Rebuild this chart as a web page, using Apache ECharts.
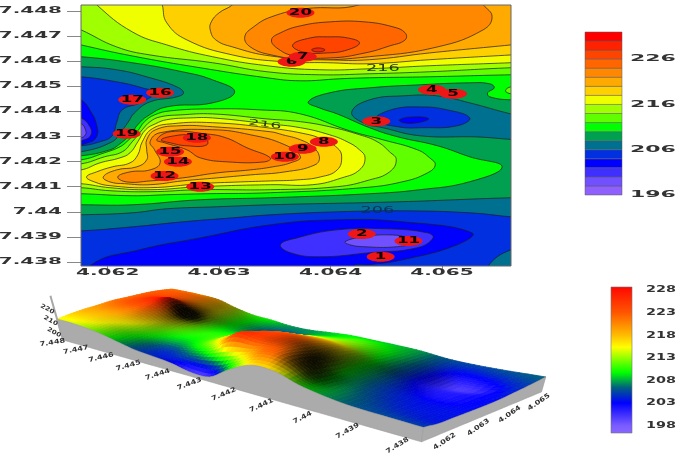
<!DOCTYPE html>
<html>
<head>
<meta charset="utf-8">
<style>html,body{margin:0;padding:0;background:#fff}#chart{width:686px;height:454px}</style>
<script src="https://cdn.jsdelivr.net/npm/echarts@6/dist/echarts.min.js"></script>
</head>
<body>
<div id="chart"></div>
<script>
// Axis ranges and tick labels of the contour map
const xRange = [4.06176, 4.06562];
const yRange = [7.43784, 7.44824];
const xTicks = [4.062, 4.063, 4.064, 4.065];
const yTicks = [7.448, 7.447, 7.446, 7.445, 7.444, 7.443, 7.442, 7.441, 7.44, 7.439, 7.438];

// Sampling sites: number, longitude, latitude
const siteNumbers = [1, 2, 3, 4, 5, 6, 7, 8, 9, 10, 11, 12, 13, 14, 15, 16, 17, 18, 19, 20];
const siteX = [4.06445, 4.06428, 4.06441, 4.06491, 4.06510, 4.06365, 4.06375, 4.06394, 4.06375, 4.06359, 4.06470, 4.06251, 4.06283, 4.06263, 4.06256, 4.06247, 4.06222, 4.06280, 4.06217, 4.06373];
const siteY = [7.43821, 7.43912, 7.44361, 7.44486, 7.44470, 7.44598, 7.44618, 7.44279, 7.44251, 7.44219, 7.43884, 7.44143, 7.44100, 7.44199, 7.44239, 7.44474, 7.44446, 7.44295, 7.44311, 7.44793];

// Filled contour bands, 196 to 232 in steps of 2
const bandLevels = [196, 198, 200, 202, 204, 206, 208, 210, 212, 214, 216, 218, 220, 222, 224, 226, 228, 230, 232];
const bandColors = ['#9060FF', '#7050FF', '#4030FF', '#0000FF', '#0030E0', '#007090', '#00A050', '#00FF00', '#60FF00', '#A0FF00', '#F0FF00', '#FFD000', '#FFAA00', '#FF8800', '#FF6600', '#FF4400', '#FF2200', '#FF0000'];
const bandTickLabels = [226, 216, 206, 196];

// Contour outlines as flat x,y lists, in thousandths above 4.06 and 7.44.
// Outlines that leave the map run past its border and are clipped there.
const base = [1.4, 9.2, 6.0, 9.2, 6.0, -3.3, 1.4, -3.3];
const below210Right = [3.80,4.38, 3.99,4.74, 4.35,4.94, 4.80,5.06, 5.25,5.14, 5.43,5.10, 5.47,4.94, 5.41,4.74, 5.43,4.58, 5.62,4.46, 5.88,4.46, 5.88,-3.11, 1.57,-3.11, 1.57,0.28, 1.76,0.28, 2.22,0.28, 2.83,0.48, 3.46,0.56, 4.35,0.72, 4.80,0.88, 5.25,1.20, 5.54,1.79, 5.25,2.19, 4.96,2.63, 4.60,2.99, 4.35,3.35, 4.06,3.90, 3.90,4.14];
const below210Left = [1.57,6.18, 1.76,6.18, 2.22,5.94, 2.67,5.58, 2.94,5.26, 3.14,4.78, 2.94,4.34, 2.53,4.18, 2.36,3.82, 2.27,3.47, 2.21,3.11, 2.11,2.71, 2.02,2.47, 1.76,2.23, 1.57,2.23];
const below208Left = [1.57,5.78, 1.76,5.78, 2.08,5.66, 2.38,5.34, 2.62,4.98, 2.68,4.74, 2.62,4.58, 2.38,4.38, 2.24,3.94, 2.18,3.55, 2.12,3.19, 2.04,2.79, 1.76,2.39, 1.57,2.39];
const below208Right = [4.19,3.98, 4.35,4.46, 4.65,4.62, 4.96,4.62, 5.25,4.34, 5.62,3.90, 5.88,3.67, 5.88,2.99, 5.25,2.99, 4.80,3.03, 4.47,3.35, 4.29,3.55];
const below208Lower = [1.57,-0.12, 1.76,-0.12, 2.22,-0.04, 2.53,0.12, 2.98,0.20, 3.46,0.28, 4.62,0.40, 5.62,0.56, 5.88,0.56, 5.88,-3.11, 1.57,-3.11];
const below206Left = [1.57,5.38, 1.76,5.38, 2.08,5.18, 2.31,4.94, 2.42,4.74, 2.29,4.34, 2.13,4.06, 2.08,3.55, 2.04,3.03, 1.93,2.79, 1.76,2.63, 1.57,2.63];
const below206Right = [4.40,3.67, 4.54,4.06, 4.80,4.18, 5.05,4.06, 5.25,3.74, 5.14,3.43, 4.83,3.35, 4.60,3.39];
const below206Lower = [1.57,-0.76, 1.76,-0.76, 2.22,-0.60, 2.67,-0.40, 3.12,-0.24, 3.46,-0.12, 4.06,0, 4.65,0.04, 5.25,-0.04, 5.62,-0.20, 5.88,-0.28, 5.88,-1.31, 5.62,-1.51, 5.41,-2.19, 5.34,-3.11, 1.57,-3.11];
const below204Left = [1.66,4.46, 1.76,4.46, 1.85,3.98, 1.90,3.47, 1.90,2.99, 1.82,2.75, 1.66,2.67];
const below204Right = [4.62,3.67, 4.74,3.78, 4.88,3.71, 4.78,3.55, 4.65,3.55];
const below204Lower = [1.84,-2.15, 2.29,-1.51, 2.83,-1.04, 3.46,-0.52, 4.06,-0.32, 4.65,-0.40, 5.27,-0.84, 5.14,-1.31, 4.65,-1.91, 4.35,-2.11, 4.20,-2.19, 4.17,-3.11, 1.79,-3.11];
const below202Left = [1.66,3.74, 1.76,3.74, 1.84,3.39, 1.85,3.07, 1.79,2.87, 1.66,2.79];
const below202Lower = [3.55,-1.31, 3.70,-1.04, 4.06,-0.72, 4.51,-0.68, 4.87,-0.84, 4.92,-1.04, 4.78,-1.43, 4.35,-1.63, 3.90,-1.79, 3.64,-1.63];
const below200Left = [1.66,3.51, 1.76,3.51, 1.80,3.27, 1.80,3.07, 1.76,2.95, 1.66,2.95];
const below200Lower = [4.13,-1.19, 4.29,-1.00, 4.53,-0.92, 4.71,-1.04, 4.78,-1.19, 4.60,-1.39, 4.29,-1.39, 4.17,-1.31];

const above212Upper = [1.66,6.77, 1.76,6.65, 2.22,6.21, 2.83,5.74, 3.43,5.34, 3.73,5.22, 4.08,5.30, 4.35,5.34, 4.89,5.38, 5.62,5.46, 5.79,5.46, 5.79,9.04, 1.57,9.04, 1.57,6.77];
const above214Upper = [1.66,7.41, 1.76,7.25, 2.08,6.57, 2.38,6.25, 2.94,5.94, 3.43,5.58, 3.90,5.46, 4.35,5.50, 4.89,5.58, 5.62,5.74, 5.79,5.74, 5.79,9.04, 1.57,9.04, 1.57,7.41];
const above216Upper = [1.84,8.65, 1.90,8.25, 2.22,7.17, 2.53,6.65, 2.94,6.18, 3.43,5.82, 3.90,5.66, 4.35,5.70, 4.89,5.82, 5.62,5.94, 5.79,5.98, 5.79,9.04, 1.79,9.04];
const above218Upper = [2.47,8.65, 2.49,8.25, 2.53,7.53, 2.71,6.85, 3.12,6.25, 3.57,5.98, 3.97,5.94, 4.35,5.90, 4.89,6.06, 5.62,6.25, 5.79,6.29, 5.79,9.04, 2.42,9.04];
const above220Upper = [3.19,8.65, 3.12,8.25, 3.00,7.93, 2.93,7.57, 2.92,7.25, 2.97,6.85, 3.12,6.57, 3.46,6.21, 3.97,6.06, 4.35,6.06, 4.89,6.33, 5.62,6.65, 5.79,6.73, 5.79,9.04, 3.23,9.04];
const above222Upper = [4.35,8.84, 4.26,8.25, 3.77,8.09, 3.47,7.77, 3.31,7.37, 3.23,6.97, 3.28,6.57, 3.47,6.25, 3.81,6.06, 4.35,6.18, 4.96,6.57, 5.37,7.25, 5.45,7.77, 5.37,8.25, 5.25,8.84];
const above224Upper = [3.47,6.85, 3.55,7.13, 3.73,7.41, 4.00,7.57, 4.30,7.57, 4.56,7.37, 4.67,7.13, 4.67,6.85, 4.53,6.61, 4.31,6.33, 4.00,6.13, 3.68,6.21, 3.53,6.49];
const above226Upper = [3.66,6.65, 3.82,6.93, 3.97,6.97, 4.15,6.93, 4.26,6.73, 4.15,6.45, 3.97,6.33, 3.75,6.37];
const above228Upper = [3.83,6.45, 3.89,6.53, 3.95,6.45, 3.89,6.37];
const above212Edge = [5.57,4.82, 5.62,4.98, 5.70,4.90, 5.70,4.70, 5.62,4.70];

const above212Center = [1.57,2.07, 1.76,2.07, 1.97,2.35, 2.11,2.59, 2.18,2.83, 2.27,3.23, 2.33,3.59, 2.42,3.86, 2.56,4.02, 2.94,4.10, 3.37,4.06, 3.73,3.90, 4.17,3.23, 4.47,2.87, 4.78,2.47, 4.89,2.15, 4.94,1.87, 4.87,1.55, 4.65,1.20, 4.29,0.96, 3.46,0.76, 2.89,0.72, 2.53,0.68, 2.22,0.64, 1.76,0.72, 1.57,0.72];
const above214Center = [1.57,1.91, 1.76,1.91, 1.97,2.19, 2.13,2.39, 2.22,2.79, 2.31,3.27, 2.38,3.59, 2.47,3.78, 2.65,3.86, 2.94,3.90, 3.43,3.70, 3.73,3.59, 3.99,3.39, 4.26,3.07, 4.42,2.79, 4.53,2.39, 4.59,2.07, 4.53,1.59, 4.35,1.27, 4.06,1.00, 3.46,0.88, 2.83,0.88, 2.38,0.80, 2.02,0.84, 1.76,0.96, 1.57,0.96];
const above216Center = [1.57,1.67, 1.76,1.67, 1.93,1.95, 2.11,2.15, 2.20,2.35, 2.27,2.79, 2.34,3.27, 2.43,3.51, 2.53,3.67, 2.74,3.74, 2.94,3.74, 3.43,3.51, 3.73,3.35, 3.99,3.07, 4.15,2.79, 4.26,2.47, 4.31,2.15, 4.26,1.67, 4.10,1.35, 3.84,1.08, 3.46,1.08, 2.83,1.00, 2.38,0.88, 2.02,0.96, 1.76,1.12, 1.57,1.12];
const above218Center = [1.81,1.39, 1.90,1.59, 2.04,1.79, 2.20,1.95, 2.27,2.27, 2.31,2.79, 2.40,3.31, 2.58,3.51, 2.94,3.55, 3.43,3.35, 3.81,3.07, 3.93,2.87, 4.06,2.55, 4.10,2.19, 4.06,1.67, 3.91,1.39, 3.70,1.27, 3.46,1.23, 3.19,1.19, 2.83,1.12, 2.38,0.96, 2.02,1.04, 1.88,1.19];
const above220Center = [1.96,1.39, 2.08,1.67, 2.26,1.79, 2.35,2.07, 2.35,2.47, 2.35,2.87, 2.43,3.27, 2.65,3.43, 2.94,3.39, 3.46,3.19, 3.57,3.07, 3.73,2.87, 3.84,2.59, 3.90,2.19, 3.86,1.87, 3.59,1.59, 3.28,1.47, 2.98,1.35, 2.67,1.23, 2.38,1.08, 2.15,1.12, 2.02,1.19];
const above222Center = [2.09,1.39, 2.20,1.59, 2.38,1.67, 2.47,1.95, 2.42,2.47, 2.38,2.79, 2.47,3.15, 2.94,3.27, 3.28,3.07, 3.59,2.67, 3.73,2.19, 3.64,1.95, 3.48,1.79, 3.28,1.67, 2.98,1.55, 2.67,1.35, 2.38,1.23, 2.17,1.19];
const above224Center = [2.44,2.87, 2.56,3.19, 2.87,3.11, 3.06,2.95, 3.25,2.55, 3.46,2.15, 3.41,1.99, 3.07,1.99, 2.83,2.15, 2.71,2.47, 2.51,2.75];
const above226Center = [2.48,2.87, 2.60,3.03, 2.74,3.07, 2.87,2.99, 2.89,2.67, 2.71,2.63, 2.56,2.75];

// Painting order: [contour level, colour index in bandColors, outline]
const contourLayers = [
  [210, 7, base],
  [210, 6, below210Right], [210, 6, below210Left],
  [208, 5, below208Left], [208, 5, below208Right], [208, 5, below208Lower],
  [206, 4, below206Left], [206, 4, below206Right], [206, 4, below206Lower],
  [204, 3, below204Left], [204, 3, below204Right], [204, 3, below204Lower],
  [202, 2, below202Left], [202, 2, below202Lower],
  [200, 1, below200Left], [200, 1, below200Lower],
  [212, 8, above212Upper], [214, 9, above214Upper], [216, 10, above216Upper], [218, 11, above218Upper],
  [220, 12, above220Upper], [222, 13, above222Upper], [224, 14, above224Upper], [226, 15, above226Upper], [228, 16, above228Upper],
  [212, 8, above212Edge],
  [212, 8, above212Center], [214, 9, above214Center], [216, 10, above216Center], [218, 11, above218Center],
  [220, 12, above220Center], [222, 13, above222Center], [224, 14, above224Center], [226, 15, above226Center]
];

// Contour annotations: text, longitude, latitude, tilt
const contourNotes = [['216', 4.06447, 7.44570, 0], ['216', 4.06341, 7.44348, -0.14], ['206', 4.06442, 7.44004, 0]];

// Surface heights (m) on a lon/lat lattice, first row at the northern edge
const surfaceX = [4.06176, 4.06220, 4.06265, 4.06310, 4.06355, 4.06400, 4.06445, 4.06486, 4.06526, 4.06562];
const surfaceY = [7.44825, 7.44765, 7.44705, 7.44645, 7.44586, 7.44526, 7.44466, 7.44406, 7.44347, 7.44287, 7.44227, 7.44167, 7.44108, 7.44048, 7.43988, 7.43928, 7.43869, 7.43785];
const surfaceRow0 = [215.0, 217.0, 218.7, 219.9, 221.4, 221.8, 222.3, 222.6, 222.2, 221.5];
const surfaceRow1 = [214.7, 216.8, 218.5, 221.0, 222.9, 223.8, 223.8, 223.0, 222.6, 221.2];
const surfaceRow2 = [213.5, 215.8, 218.0, 221.0, 224.0, 226.5, 224.4, 222.8, 222.1, 220.5];
const surfaceRow3 = [211.4, 213.2, 215.8, 219.6, 223.6, 228.0, 223.0, 220.7, 220.0, 219.0];
const surfaceRow4 = [208.4, 209.6, 212.2, 214.2, 216.5, 217.4, 217.6, 216.3, 215.8, 214.4];
const surfaceRow5 = [205.6, 206.5, 209.0, 211.2, 211.8, 211.7, 211.5, 211.3, 211.2, 211.0];
const surfaceRow6 = [204.3, 204.6, 208.0, 210.1, 210.6, 209.6, 208.6, 208.1, 208.6, 209.7];
const surfaceRow7 = [202.9, 206.0, 210.5, 212.0, 211.6, 209.8, 206.6, 205.6, 206.8, 207.8];
const surfaceRow8 = [200.0, 207.8, 215.2, 218.4, 216.3, 212.6, 207.9, 205.6, 206.9, 207.5];
const surfaceRow9 = [200.3, 211.5, 225.0, 224.0, 221.7, 217.6, 213.6, 210.4, 208.4, 208.6];
const surfaceRow10 = [209.2, 216.2, 223.5, 224.7, 223.0, 219.0, 215.0, 212.0, 210.0, 209.4];
const surfaceRow11 = [216.0, 221.8, 222.7, 222.7, 220.7, 218.0, 214.4, 212.4, 210.9, 209.0];
const surfaceRow12 = [215.9, 219.7, 219.0, 216.5, 216.0, 214.7, 212.0, 210.8, 209.5, 208.6];
const surfaceRow13 = [211.0, 210.8, 210.1, 209.8, 209.5, 209.4, 208.5, 208.3, 208.0, 207.8];
const surfaceRow14 = [208.0, 207.7, 207.0, 206.3, 206.0, 205.3, 205.2, 205.6, 205.7, 206.0];
const surfaceRow15 = [206.2, 205.8, 204.9, 204.2, 203.3, 201.9, 201.4, 202.1, 204.0, 205.5];
const surfaceRow16 = [205.6, 204.5, 203.8, 203.3, 202.0, 201.5, 199.8, 202.0, 204.5, 205.7];
const surfaceRow17 = [205.0, 203.7, 203.6, 203.4, 203.3, 203.4, 204.1, 204.8, 205.6, 206.5];
const surfaceRows = [surfaceRow0, surfaceRow1, surfaceRow2, surfaceRow3, surfaceRow4, surfaceRow5, surfaceRow6, surfaceRow7, surfaceRow8, surfaceRow9, surfaceRow10, surfaceRow11, surfaceRow12, surfaceRow13, surfaceRow14, surfaceRow15, surfaceRow16, surfaceRow17];

// Colour ramp of the surface and its scale
const rampValues = [196.3, 198, 203, 206.4, 209.7, 212, 215.3, 218, 223, 228, 228.7];
const rampColors = ['#8866FF', '#7A5CFF', '#0000FF', '#006080', '#00FF00', '#66FF00', '#FFFF00', '#FFBB00', '#FF5500', '#FF1100', '#FF0000'];
const rampTicks = [228, 223, 218, 213, 208, 203, 198];

// Tick labels of the surface box
const boxYLabels = ['7.448', '7.447', '7.446', '7.445', '7.444', '7.443', '7.442', '7.441', '7.44', '7.439', '7.438'];
const boxXLabels = ['4.062', '4.063', '4.064', '4.065'];
const boxZLabels = ['220', '210', '200'];

const LABEL_FONT = '"DejaVu Sans"';
const toX = v => 4.06 + v / 1000;
const toY = v => 7.44 + v / 1000;

function stretchedText(text, x, y, o) {
  return {
    type: 'text', x, y, scaleX: o.scale, scaleY: 1, rotation: o.rotation || 0,
    style: {
      text, fill: o.color || '#333333', fontSize: o.size, fontWeight: o.weight || 'bold', fontFamily: LABEL_FONT,
      align: o.align || 'center', verticalAlign: 'middle', textAlign: o.align || 'center', textVerticalAlign: 'middle'
    }
  };
}

// Projection of the surface box: corner anchors and perspective weights
const box = { front: [422, 442], right: [542, 392], left: [63, 340], g: 0.15, h: 0.545, zBase: 197, zScale: 1.8 };
function project(u, v, z) {
  const w = 1 + box.g * u + box.h * v;
  const nx = box.front[0] + u * ((1 + box.g) * box.right[0] - box.front[0]) + v * ((1 + box.h) * box.left[0] - box.front[0]);
  const ny = box.front[1] + u * ((1 + box.g) * box.right[1] - box.front[1]) + v * ((1 + box.h) * box.left[1] - box.front[1]);
  const px = nx / w, py = ny / w;
  const rise = (z - box.zBase) * box.zScale / w;
  return [px + rise * (px - 300) * 0.0012, py - rise];
}
const uOf = x => (x - xRange[0]) / (xRange[1] - xRange[0]);
const vOf = y => (y - yRange[0]) / (yRange[1] - yRange[0]);

const hexRgb = h => [parseInt(h.slice(1, 3), 16), parseInt(h.slice(3, 5), 16), parseInt(h.slice(5, 7), 16)];
const rampRgb = rampColors.map(hexRgb);
function rampColor(z) {
  let i = 0;
  while (i < rampValues.length - 2 && z > rampValues[i + 1]) i++;
  const t = Math.max(0, Math.min(1, (z - rampValues[i]) / (rampValues[i + 1] - rampValues[i])));
  return rampRgb[i].map((c, k) => c + (rampRgb[i + 1][k] - c) * t);
}

// Smooth reading of the height lattice between its nodes
function catmull(a, b, c, d, t) {
  return 0.5 * (2 * b + (c - a) * t + (2 * a - 5 * b + 4 * c - d) * t * t + (3 * b - a - 3 * c + d) * t * t * t);
}
function heightAt(r, c) {
  const nr = surfaceRows.length, nc = surfaceX.length;
  const ri = Math.min(Math.floor(r), nr - 2), ci = Math.min(Math.floor(c), nc - 2);
  const tr = r - ri, tc = c - ci, col = [];
  for (let k = -1; k <= 2; k++) {
    const row = surfaceRows[Math.max(0, Math.min(nr - 1, ri + k))];
    const at = i => row[Math.max(0, Math.min(nc - 1, i))];
    col.push(catmull(at(ci - 1), at(ci), at(ci + 1), at(ci + 2), tc));
  }
  return catmull(col[0], col[1], col[2], col[3], tr);
}
function latticePos(arr, f) {
  const i = Math.min(Math.floor(f), arr.length - 2);
  return arr[i] + (arr[i + 1] - arr[i]) * (f - i);
}

function buildSurface() {
  const sub = 5, reach = 5, children = [];
  const nc = (surfaceX.length - 1) * sub + 1, nr = (surfaceRows.length - 1) * sub + 1;
  const Z = [], U = [], V = [], P = [], S = [];
  for (let i = 0; i < nr; i++) {
    Z.push([]); P.push([]);
    V.push(vOf(latticePos(surfaceY, i / sub)));
    for (let j = 0; j < nc; j++) {
      if (i === 0) U.push(uOf(latticePos(surfaceX, j / sub)));
      const z = heightAt(i / sub, j / sub);
      Z[i].push(z);
      P[i].push(project(U[j], V[i], z));
    }
  }
  // Relief shading from the slope over a wide stencil, dark on the slopes facing away from the light
  for (let i = 0; i < nr; i++) {
    S.push([]);
    const i0 = Math.max(0, i - reach), i1 = Math.min(nr - 1, i + reach);
    for (let j = 0; j < nc; j++) {
      const j0 = Math.max(0, j - reach), j1 = Math.min(nc - 1, j + reach);
      const dzdv = (Z[i0][j] - Z[i1][j]) / (V[i0] - V[i1]);
      const dzdu = (Z[i][j1] - Z[i][j0]) / (U[j1] - U[j0]);
      const slope = Math.max(0, dzdv - 0.4 * dzdu);
      S[i].push(Math.max(0.04, 1 - Math.pow(slope / 125, 1.4)));
    }
  }
  // Far corner first, so nearer facets cover it
  for (let j = nc - 2; j >= 0; j--) {
    for (let i = 0; i < nr - 1; i++) {
      const z = (Z[i][j] + Z[i][j + 1] + Z[i + 1][j] + Z[i + 1][j + 1]) / 4;
      const shade = (S[i][j] + S[i][j + 1] + S[i + 1][j] + S[i + 1][j + 1]) / 4;
      const rgb = rampColor(z).map(c => Math.round(c * shade));
      const fill = 'rgb(' + rgb.join(',') + ')';
      children.push({
        type: 'polygon', silent: true,
        shape: { points: [P[i][j], P[i][j + 1], P[i + 1][j + 1], P[i + 1][j]] },
        style: { fill, stroke: fill, lineWidth: 0.8 }
      });
    }
  }
  // Walls under the two near edges
  const wallLeft = [], wallRight = [];
  for (let i = 0; i < nr; i++) wallLeft.push(P[i][0]);
  for (let i = nr - 1; i >= 0; i--) wallLeft.push(project(0, V[i], box.zBase));
  for (let j = 0; j < nc; j++) wallRight.push(P[nr - 1][j]);
  for (let j = nc - 1; j >= 0; j--) wallRight.push(project(U[j], V[nr - 1], box.zBase));
  const wallStyle = { fill: '#ABABAB', stroke: '#9a9a9a', lineWidth: 0.6 };
  children.push({ type: 'polygon', silent: true, shape: { points: wallLeft }, style: wallStyle });
  children.push({ type: 'polygon', silent: true, shape: { points: wallRight }, style: wallStyle });

  // Height axis at the far end of the long wall
  children.push({
    type: 'line', silent: true,
    shape: { x1: project(0, 1, box.zBase)[0], y1: project(0, 1, box.zBase)[1], x2: project(0, 1, 235)[0], y2: project(0, 1, 235)[1] },
    style: { stroke: '#a8a8a8', lineWidth: 2 }
  });
  boxZLabels.forEach(t => {
    const p = project(0, 1, +t);
    children.push(stretchedText(t, p[0] - 8, p[1] - 4, { size: 6, scale: 1.2, rotation: -0.5 }));
  });
  boxYLabels.forEach(t => {
    const v = vOf(+t), p = project(0, v, box.zBase);
    children.push(stretchedText(t, p[0] - 16, p[1] + 1 + 5 * (1 - v), { size: 6.5, scale: 1.25, rotation: 0.14 + 0.42 * (1 - v) }));
  });
  boxXLabels.forEach(t => {
    const p = project(uOf(+t), 0, box.zBase);
    children.push(stretchedText(t, p[0] + 14, p[1] + 3, { size: 6.5, scale: 1.25, rotation: 0.6 }));
  });
  return { type: 'group', children };
}

function pairs(flat, api) {
  const out = [];
  for (let i = 0; i < flat.length; i += 2) out.push(api.coord([toX(flat[i]), toY(flat[i + 1])]));
  return out;
}

const hiddenAxis = (extra) => Object.assign({ show: false, type: 'value', scale: true }, extra);

const option = {
  animation: false,
  backgroundColor: '#ffffff',
  grid: [
    { left: 81, top: 5, width: 430, height: 261 },
    { left: 585, top: 32, width: 37, height: 163 },
    { left: 611, top: 287, width: 21, height: 146 }
  ],
  xAxis: [
    {
      type: 'value', gridIndex: 0, min: xRange[0], max: xRange[1], splitLine: { show: false }, axisLine: { show: false },
      axisTick: { show: true, length: 4, customValues: xTicks, lineStyle: { color: '#888' } },
      axisLabel: { show: false }
    },
    hiddenAxis({ gridIndex: 1, min: 0, max: 1 }),
    hiddenAxis({ gridIndex: 2, min: 0, max: 1 })
  ],
  yAxis: [
    {
      type: 'value', gridIndex: 0, min: yRange[0], max: yRange[1], splitLine: { show: false }, axisLine: { show: false },
      axisTick: { show: true, length: 14, customValues: yTicks, lineStyle: { color: '#888' } },
      axisLabel: { show: false }
    },
    hiddenAxis({ gridIndex: 1, min: 196, max: 232 }),
    {
      type: 'value', gridIndex: 2, position: 'right', min: 196.3, max: 228.7, splitLine: { show: false }, axisLine: { show: false },
      axisTick: { show: true, length: 10, customValues: rampTicks, lineStyle: { color: '#888' } },
      axisLabel: { show: false }
    }
  ],
  series: [
    // Filled contours of the map
    {
      type: 'custom', xAxisIndex: 0, yAxisIndex: 0, silent: true,
      data: contourLayers.map(() => [xTicks[1], yTicks[5]]),
      renderItem(params, api) {
        const layer = contourLayers[params.dataIndex];
        const cs = params.coordSys;
        return {
          type: 'group',
          clipPath: { type: 'rect', shape: { x: cs.x, y: cs.y, width: cs.width, height: cs.height } },
          children: [{
            type: 'polygon',
            shape: { points: pairs(layer[2], api), smooth: layer[2] === base ? 0 : 0.45 },
            style: { fill: bandColors[layer[1]], stroke: layer[2] === base ? 'none' : '#1c1c1c', lineWidth: 0.7 }
          }]
        };
      }
    },
    // Map frame, axis tick labels and contour annotations
    {
      type: 'custom', xAxisIndex: 0, yAxisIndex: 0, silent: true,
      data: [[xTicks[1], yTicks[5]]],
      renderItem(params, api) {
        const cs = params.coordSys;
        const children = [{
          type: 'rect', shape: { x: cs.x, y: cs.y, width: cs.width, height: cs.height },
          style: { fill: 'none', stroke: '#666', lineWidth: 1 }
        }];
        xTicks.forEach(t => {
          const p = api.coord([t, yRange[0]]);
          children.push(stretchedText(t.toFixed(3), p[0], 273, { size: 8, scale: 2.5 }));
        });
        yTicks.forEach(t => {
          const p = api.coord([xRange[0], t]);
          children.push(stretchedText(String(t), 62, p[1], { size: 8, scale: 2.5, align: 'right' }));
        });
        contourNotes.forEach(n => {
          const p = api.coord([n[1], n[2]]);
          children.push(stretchedText(n[0], p[0], p[1], { size: 8, scale: 2.2, weight: 'normal', rotation: n[3], color: n[0] === '206' ? '#06305a' : '#263a10' }));
        });
        return { type: 'group', children };
      }
    },
    // Numbered sampling sites
    {
      type: 'custom', xAxisIndex: 0, yAxisIndex: 0, silent: true,
      data: siteNumbers.map((n, i) => [siteX[i], siteY[i], n]),
      renderItem(params, api) {
        const p = api.coord([api.value(0), api.value(1)]);
        return {
          type: 'group',
          children: [
            { type: 'ellipse', shape: { cx: p[0], cy: p[1], rx: 14, ry: 5 }, style: { fill: '#EE1616' } },
            stretchedText(String(api.value(2)), p[0], p[1], { size: 9, scale: 1.85, color: '#140000' })
          ]
        };
      }
    },
    // Stepped colour scale of the map
    {
      type: 'custom', xAxisIndex: 1, yAxisIndex: 1, silent: true,
      data: bandColors.map((c, i) => [0, bandLevels[i]]),
      renderItem(params, api) {
        const i = params.dataIndex;
        const a = api.coord([0, bandLevels[i + 1]]), b = api.coord([1, bandLevels[i]]);
        const children = [{
          type: 'rect', shape: { x: a[0], y: a[1], width: b[0] - a[0], height: b[1] - a[1] },
          style: { fill: bandColors[i], stroke: '#5a5a5a', lineWidth: 0.5 }
        }];
        if (bandTickLabels.includes(bandLevels[i])) {
          children.push(stretchedText(String(bandLevels[i]), 630, b[1], { size: 8, scale: 2.75, align: 'left' }));
        }
        return { type: 'group', children };
      }
    },
    // Continuous colour scale of the surface
    {
      type: 'custom', xAxisIndex: 2, yAxisIndex: 2, silent: true,
      data: [[0, rampTicks[0]]],
      renderItem(params, api) {
        const a = api.coord([0, 228.7]), b = api.coord([1, 196.3]);
        const stops = rampValues.map((v, i) => ({ offset: (228.7 - v) / (228.7 - 196.3), color: rampColors[i] })).reverse();
        const children = [{
          type: 'rect', shape: { x: a[0], y: a[1], width: b[0] - a[0], height: b[1] - a[1] },
          style: { fill: new echarts.graphic.LinearGradient(0, 0, 0, 1, stops), stroke: '#777', lineWidth: 0.6 }
        }];
        rampTicks.forEach(t => {
          const p = api.coord([1, t]);
          children.push(stretchedText(String(t), 646, p[1], { size: 9, scale: 1.6, align: 'left' }));
        });
        return { type: 'group', children };
      }
    },
    // Shaded relief of the same area
    {
      type: 'custom', coordinateSystem: 'none', silent: true,
      data: [[0]],
      renderItem() { return buildSurface(); }
    }
  ]
};

const chart = echarts.init(document.getElementById('chart'), null, { renderer: 'canvas' });
chart.setOption(option);
</script>
</body>
</html>
